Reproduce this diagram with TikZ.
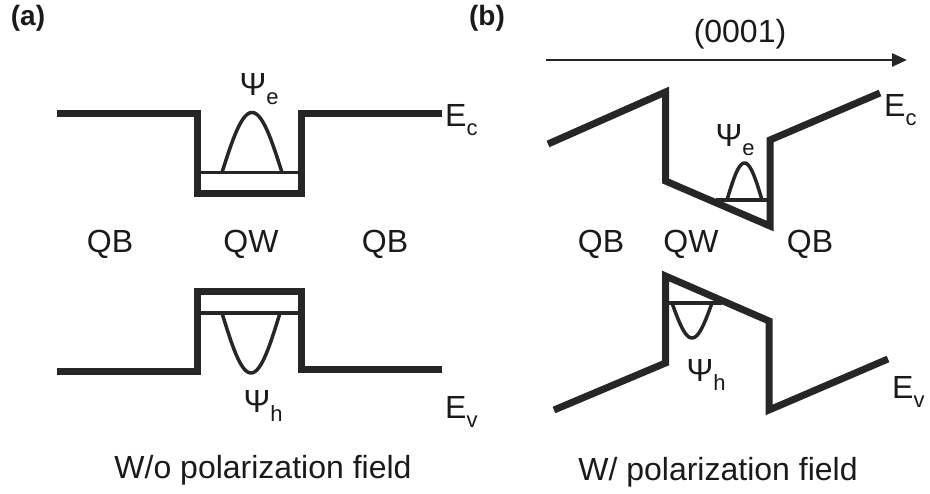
\documentclass[tikz,border=0pt]{standalone}
\usepackage{fontspec}
\setmainfont{Liberation Sans}
\usetikzlibrary{arrows.meta}
\definecolor{band}{HTML}{262626}
\definecolor{txt}{HTML}{1A1A1A}
\newcommand{\subtxt}[1]{\raisebox{-0.3em}{\fontsize{22}{24}\selectfont #1}}
\tikzset{
  bandline/.style={draw=band,line width=7pt,line join=miter},
  levelline/.style={draw=band,line width=3.5pt},
  wavefn/.style={draw=band,line width=3.5pt,line join=round},
  lbl/.style={text=txt,font=\fontsize{32}{36}\selectfont,inner sep=0pt},
  panel/.style={text=txt,font=\fontsize{28}{30}\selectfont\bfseries,inner sep=0pt},
}
\begin{document}
\begin{tikzpicture}[x=1pt,y=-1pt]
\useasboundingbox (0,0) rectangle (930,494);
% ---------- panel (a) ----------
\node[panel] (pa) at (28,18) {(a)};
% conduction band
\draw[bandline] (57,113.5) -- (197.5,113.5) -- (197.5,193.5) -- (301.5,193.5) -- (301.5,113.5) -- (442,113.5);
\draw[levelline] (197.5,172.5) -- (301.5,172.5);
\draw[wavefn] plot[domain=0:1,samples=40] ({222+60*\x},{172.5-60*sin(180*\x)});
\node[lbl] (psiea) at (259,89) {Ψ\subtxt{e}};
\node[lbl,anchor=west] (eca) at (445,120) {E\subtxt{c}};
% labels
\node[lbl] (qba1) at (110,244) {QB};
\node[lbl] (qwa) at (251,244) {QW};
\node[lbl] (qba2) at (385,244) {QB};
% valence band
\draw[bandline] (57,371.5) -- (197.5,371.5) -- (197.5,291.5) -- (301.5,291.5) -- (301.5,370) -- (442,370);
\draw[levelline] (197.5,313) -- (301.5,313);
\draw[wavefn] plot[domain=0:1,samples=40] ({222+58*\x},{313+60*sin(180*\x)});
\node[lbl] (psiha) at (263,406) {Ψ\subtxt{h}};
\node[lbl,anchor=west] (eva) at (445,412) {E\subtxt{v}};
\node[lbl] (capa) at (263,470) {W/o polarization field};
% ---------- panel (b) ----------
\node[panel] (pb) at (487,18) {(b)};
\node[lbl] (dir) at (740,34) {(0001)};
\coordinate (arrs) at (546,60);
\coordinate (arre) at (907,60);
\draw[draw=band,line width=2.8pt,-{Triangle[length=15pt,width=13pt]}] (arrs) -- (arre);
% conduction band
\draw[bandline] (548,144) -- (665.5,92) -- (665.5,181) -- (770,226) -- (770,140) -- (880,93);
\draw[levelline] (716,200) -- (770,200);
\draw[wavefn] plot[domain=0:1,samples=40] ({727+35*\x},{200-37*sin(180*\x)});
\node[lbl] (psieb) at (735,140) {Ψ\subtxt{e}};
\node[lbl,anchor=west] (ecb) at (884,110) {E\subtxt{c}};
\node[lbl] (qbb1) at (601,244) {QB};
\node[lbl] (qwb) at (691,244) {QW};
\node[lbl] (qbb2) at (810,244) {QB};
% valence band
\draw[bandline] (554,410) -- (665.5,363) -- (665.5,276) -- (769,321) -- (769,410) -- (888,359);
\draw[levelline] (665.5,303) -- (722,303);
\draw[wavefn] plot[domain=0:1,samples=40] ({672+40*\x},{303+35*sin(180*\x)});
\node[lbl] (psihb) at (706,375) {Ψ\subtxt{h}};
\node[lbl,anchor=west] (evb) at (892,392) {E\subtxt{v}};
\node[lbl] (capb) at (718,472) {W/ polarization field};
\end{tikzpicture}
\end{document}
